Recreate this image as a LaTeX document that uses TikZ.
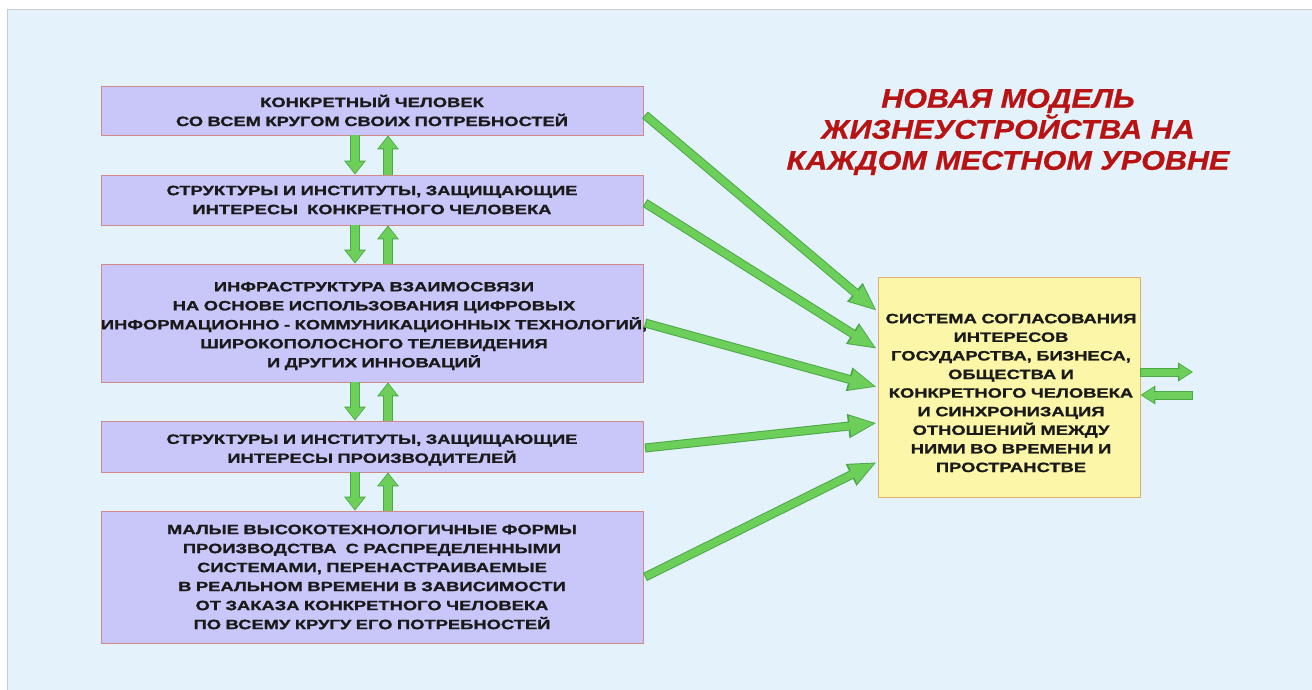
\documentclass[tikz,border=0pt]{standalone}
\usepackage{fontspec}
\setmainfont{Liberation Sans}
\newfontfamily\boxfont[FakeStretch=1.36,BoldFeatures={FakeBold=1.2}]{Liberation Sans}
\newfontfamily\titlefont[FakeStretch=1.13,BoldItalicFeatures={FakeBold=0.8}]{Liberation Sans}
\usetikzlibrary{arrows.meta}
\definecolor{panel}{HTML}{E4F2FB}
\definecolor{panelborder}{HTML}{CCCCCC}
\definecolor{lav}{HTML}{C9C6FA}
\definecolor{lavborder}{HTML}{D08A8A}
\definecolor{yel}{HTML}{FCF7A8}
\definecolor{yelborder}{HTML}{E0B070}
\definecolor{grn}{HTML}{6CCF5A}
\definecolor{grnd}{HTML}{4CA846}
\definecolor{ttl}{HTML}{B81212}
\definecolor{txt}{HTML}{1A1A1A}
\tikzset{
  lbox/.style={draw=lavborder, fill=lav, line width=0.8pt, inner sep=0pt,
    text width=542pt, align=center, text=txt,
    font=\boxfont\bfseries\fontsize{13.5}{19}\selectfont},
  ybox/.style={draw=yelborder, fill=yel, line width=0.8pt, inner sep=0pt,
    minimum width=262pt, minimum height=220pt},
  ytext/.style={inner sep=0pt, text width=262pt, align=center, text=txt,
    font=\boxfont\bfseries\fontsize{13.5}{18.6}\selectfont},
  garrow/.style={line width=9pt, grnd, -{Triangle[width=22pt,length=29pt]}},
  garrowin/.style={line width=7pt, grn, shorten >=2.2pt, shorten <=1pt, -{Triangle[width=18.5pt,length=25pt]}},
  varrow/.style={line width=10pt, grnd, -{Triangle[width=21pt,length=14pt]}},
  varrowin/.style={line width=8pt, grn, shorten >=1.4pt, shorten <=0pt, -{Triangle[width=17.5pt,length=11.5pt]}},
  harrow/.style={line width=9pt, grnd, -{Triangle[width=18pt,length=15pt]}},
  harrowin/.style={line width=7pt, grn, shorten >=1.6pt, shorten <=1pt, -{Triangle[width=14.5pt,length=12pt]}},
}
\newcommand{\garr}[2]{\draw[garrow] (#1) -- (#2); \draw[garrowin] (#1) -- (#2);}
\newcommand{\varr}[2]{\draw[varrow] (#1) -- (#2); \draw[varrowin] (#1) -- (#2);}
\newcommand{\harr}[2]{\draw[harrow] (#1) -- (#2); \draw[harrowin] (#1) -- (#2);}
\begin{document}
\begin{tikzpicture}[x=1pt,y=-1pt]
\useasboundingbox (0,0) rectangle (1312,690);
\fill[white] (0,0) rectangle (1312,690);
\draw[panelborder, fill=panel, line width=1pt] (7,10) rectangle (1318,696);

\node[lbox, minimum height=49pt] (b1) at (372,110.5) {КОНКРЕТНЫЙ ЧЕЛОВЕК\\СО ВСЕМ КРУГОМ СВОИХ ПОТРЕБНОСТЕЙ};
\node[lbox, minimum height=50pt] (b2) at (372,200) {СТРУКТУРЫ И ИНСТИТУТЫ, ЗАЩИЩАЮЩИЕ\\ИНТЕРЕСЫ\ \ КОНКРЕТНОГО ЧЕЛОВЕКА};
\node[lbox, minimum height=118pt] (b3) at (372,323) {};
\node[lbox, text width=560pt, fill=none, draw=none] (b3t) at (374,326) {ИНФРАСТРУКТУРА ВЗАИМОСВЯЗИ\\НА ОСНОВЕ ИСПОЛЬЗОВАНИЯ ЦИФРОВЫХ\\ИНФОРМАЦИОННО - КОММУНИКАЦИОННЫХ ТЕХНОЛОГИЙ,\\ШИРОКОПОЛОСНОГО ТЕЛЕВИДЕНИЯ\\И ДРУГИХ ИННОВАЦИЙ};
\node[lbox, minimum height=51pt] (b4) at (372,446.5) {};
\node[lbox, fill=none, draw=none] (b4t) at (372,450) {СТРУКТУРЫ И ИНСТИТУТЫ, ЗАЩИЩАЮЩИЕ\\ИНТЕРЕСЫ ПРОИЗВОДИТЕЛЕЙ};
\node[lbox, minimum height=132pt] (b5) at (372,577) {МАЛЫЕ ВЫСОКОТЕХНОЛОГИЧНЫЕ ФОРМЫ\\ПРОИЗВОДСТВА\ \ С РАСПРЕДЕЛЕННЫМИ\\СИСТЕМАМИ, ПЕРЕНАСТРАИВАЕМЫЕ\\В РЕАЛЬНОМ ВРЕМЕНИ В ЗАВИСИМОСТИ\\ОТ ЗАКАЗА КОНКРЕТНОГО ЧЕЛОВЕКА\\ПО ВСЕМУ КРУГУ ЕГО ПОТРЕБНОСТЕЙ};

\node[ybox] (r) at (1009,387) {};
\node[ytext] (rt) at (1011,393) {СИСТЕМА СОГЛАСОВАНИЯ\\ИНТЕРЕСОВ\\ГОСУДАРСТВА, БИЗНЕСА,\\ОБЩЕСТВА И\\КОНКРЕТНОГО ЧЕЛОВЕКА\\И СИНХРОНИЗАЦИЯ\\ОТНОШЕНИЙ МЕЖДУ\\НИМИ ВО ВРЕМЕНИ И\\ПРОСТРАНСТВЕ};

\node[text=ttl, align=center, font=\titlefont\bfseries\itshape\fontsize{27}{31}\selectfont] (t) at (1008,132) {НОВАЯ МОДЕЛЬ\\ЖИЗНЕУСТРОЙСТВА НА\\КАЖДОМ МЕСТНОМ УРОВНЕ};

% vertical arrows
\coordinate (dx) at (355,0);
\coordinate (ux) at (388,0);
\foreach \a/\b in {b1/b2,b2/b3,b3/b4,b4/b5}{
  \varr{\a.south -| dx}{\b.north -| dx}
  \varr{\b.north -| ux}{\a.south -| ux}
}

% diagonal arrows
\coordinate (r1) at (877,311);
\coordinate (r2) at (877,349);
\coordinate (r3) at (877,387);
\coordinate (r4) at (877,423);
\coordinate (r5) at (877,462);
\coordinate (s1) at (645,115);
\coordinate (s2) at (645,203);
\coordinate (s3) at (645,323);
\coordinate (s4) at (645,448);
\coordinate (s5) at (645,577);
\garr{s1}{r1}
\garr{s2}{r2}
\garr{s3}{r3}
\garr{s4}{r4}
\garr{s5}{r5}

% right arrows
\coordinate (o1) at (1193,372);
\coordinate (o2) at (1193,395);
\harr{r.east |- o1}{o1}
\harr{o2}{r.east |- o2}
\end{tikzpicture}
\end{document}
